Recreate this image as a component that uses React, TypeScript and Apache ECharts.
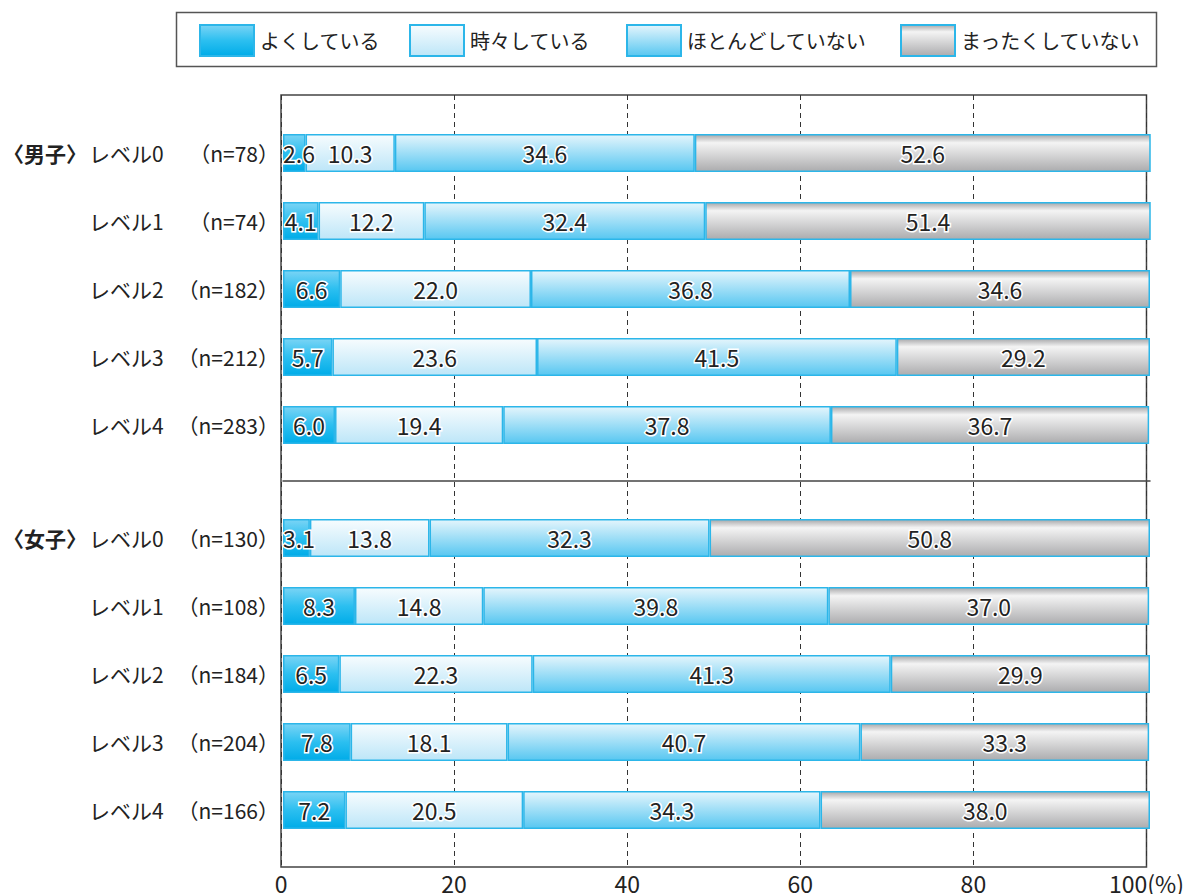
import React, { useEffect, useRef } from "react";
import * as echarts from "echarts";

const seriesNames = ["よくしている", "時々している", "ほとんどしていない", "まったくしていない"];
const groups = ["〈男子〉", "〈女子〉"];
const levels = ["レベル0", "レベル1", "レベル2", "レベル3", "レベル4"];
const nMale = [78, 74, 182, 212, 283];
const nFemale = [130, 108, 184, 204, 166];

const maleOften = [2.6, 4.1, 6.6, 5.7, 6.0];
const maleSometimes = [10.3, 12.2, 22.0, 23.6, 19.4];
const maleRarely = [34.6, 32.4, 36.8, 41.5, 37.8];
const maleNever = [52.6, 51.4, 34.6, 29.2, 36.7];

const femaleOften = [3.1, 8.3, 6.5, 7.8, 7.2];
const femaleSometimes = [13.8, 14.8, 22.3, 18.1, 20.5];
const femaleRarely = [32.3, 39.8, 41.3, 40.7, 34.3];
const femaleNever = [50.8, 37.0, 29.9, 33.3, 38.0];

const xTicks = [0, 20, 40, 60, 80, 100];

const FONT = "'Noto Sans CJK JP', 'Noto Sans', sans-serif";

function grad(stops: [number, string][]) {
  return new echarts.graphic.LinearGradient(
    0, 0, 0, 1,
    stops.map(([offset, color]) => ({ offset, color }))
  );
}

const fills = [
  grad([[0, "#7ad4f5"], [0.5, "#2cbff0"], [1, "#00ace8"]]),
  grad([[0, "#f7fcfe"], [1, "#bde6f8"]]),
  grad([[0, "#e4f5fc"], [1, "#58c7f1"]]),
  grad([[0, "#a8a8aa"], [0.22, "#f4f4f4"], [1, "#acacae"]]),
];
const BORDER = "#2cb6e9";

export default function App() {
  const ref = useRef<HTMLDivElement>(null);
  useEffect(() => {
    if (!ref.current) return;
    const chart = echarts.init(ref.current, null, { renderer: "svg" });

    const maleData = [maleOften, maleSometimes, maleRarely, maleNever];
    const femaleData = [femaleOften, femaleSometimes, femaleRarely, femaleNever];

    const catLabel = (gi: number, ns: number[]) => (_v: string, i: number) =>
      `{g|${i === 0 ? groups[gi] : " "}}{l|${levels[i]}}{n|（n=${ns[i]}）}`;

    const rich = {
      g: { width: 86, align: "left", fontWeight: "bold", fontSize: 21, color: "#222", fontFamily: FONT },
      l: { width: 90, align: "left", fontSize: 21, color: "#222", fontFamily: FONT },
      n: { width: 100, align: "right", fontSize: 21, color: "#222", fontFamily: FONT },
    };

    const makeSeries = (data: number[][], gridIdx: number, stack: string) =>
      data.map((vals, si) => ({
        name: seriesNames[si],
        type: "bar",
        stack,
        xAxisIndex: gridIdx,
        yAxisIndex: gridIdx,
        barWidth: 38,
        itemStyle: { color: fills[si], borderColor: BORDER, borderWidth: 1.5 },
        label: {
          show: true,
          position: "inside",
          fontSize: 23,
          fontFamily: FONT,
          color: "#222",
          textBorderColor: "#fff",
          textBorderWidth: 3,
          formatter: (p: any) => Number(p.value).toFixed(1),
        },
        data: vals.map((v) =>
          v < 4 ? { value: v, label: { position: "insideLeft", distance: 0 } } : v
        ),
      }));

    const legendLefts = [199, 409, 626, 900];

    const option: any = {
      animation: false,
      textStyle: { fontFamily: FONT },
      graphic: [
        {
          type: "rect",
          shape: { x: 176.5, y: 12.5, width: 980, height: 54 },
          style: { fill: "none", stroke: "#555", lineWidth: 1.5 },
          silent: true,
        },
      ],
      legend: seriesNames.map((name, i) => ({
        data: [name],
        left: legendLefts[i],
        top: 24,
        padding: 0,
        itemWidth: 54,
        itemHeight: 31,
        icon: "rect",
        textStyle: { fontSize: 20, color: "#222", fontFamily: FONT, padding: [0, 0, 0, 1] },
        selectedMode: false,
      })),
      grid: [
        { left: 281, right: 37, top: 95, height: 772, show: true, borderColor: "#444", borderWidth: 1.5, backgroundColor: "transparent" },
        { left: 281, right: 37, top: 119, height: 340 },
        { left: 281, right: 37, top: 504, height: 340 },
      ],
      xAxis: [
        {
          type: "value",
          gridIndex: 0,
          min: 0,
          max: 100,
          interval: 20,
          axisLine: { show: false },
          axisTick: { show: false },
          splitLine: { show: true, lineStyle: { type: [5, 4], color: "#333", width: 1 } },
          axisLabel: {
            fontSize: 23,
            lineHeight: 23,
            color: "#222",
            margin: 4,
            fontFamily: FONT,
            formatter: (v: number) => (v === xTicks[xTicks.length - 1] ? `${v}(%)` : `${v}`),
          },
        },
        {
          type: "value",
          gridIndex: 1,
          min: 0,
          max: 100,
          position: "bottom",
          offset: 22,
          axisLine: { show: true, lineStyle: { color: "#444", width: 1.5 } },
          axisTick: { show: false },
          axisLabel: { show: false },
          splitLine: { show: false },
        },
        {
          type: "value",
          gridIndex: 2,
          min: 0,
          max: 100,
          axisLine: { show: false },
          axisTick: { show: false },
          axisLabel: { show: false },
          splitLine: { show: false },
        },
      ],
      yAxis: [
        {
          type: "category",
          gridIndex: 0,
          data: ["a"],
          show: false,
        },
        {
          type: "category",
          gridIndex: 1,
          inverse: true,
          data: levels,
          axisLine: { show: false },
          axisTick: { show: false },
          axisLabel: { margin: 4, formatter: catLabel(0, nMale), rich },
        },
        {
          type: "category",
          gridIndex: 2,
          inverse: true,
          data: levels,
          axisLine: { show: false },
          axisTick: { show: false },
          axisLabel: { margin: 4, formatter: catLabel(1, nFemale), rich },
        },
      ],
      series: [...makeSeries(maleData, 1, "m"), ...makeSeries(femaleData, 2, "f")],
    };

    chart.setOption(option);
    return () => chart.dispose();
  }, []);

  return (
    <div
      ref={ref}
      style={{ position: "absolute", left: 0, top: 0, width: 1187, height: 894, background: "#fff" }}
    />
  );
}
